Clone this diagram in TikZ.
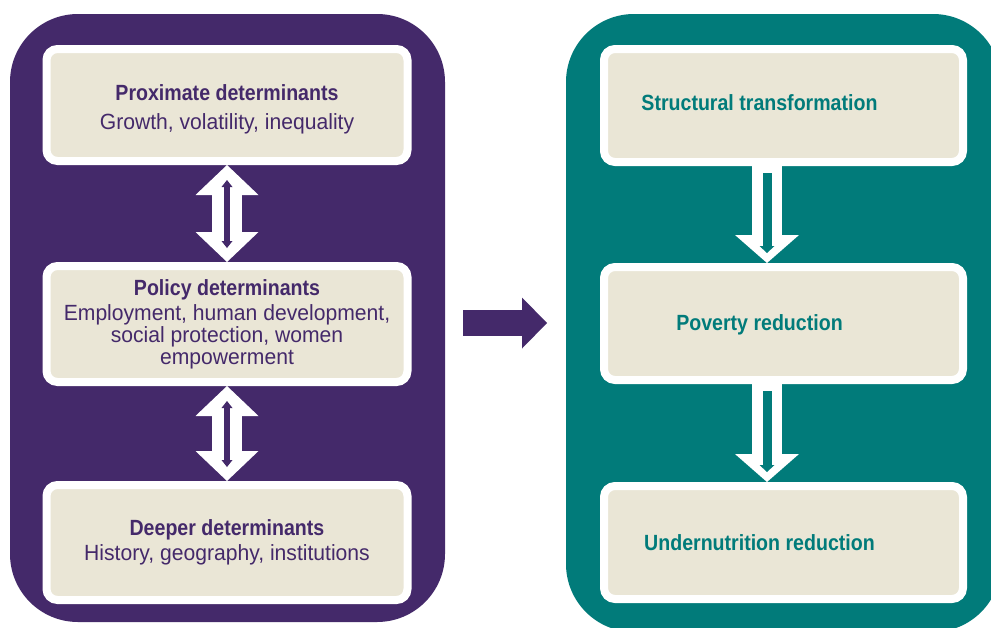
\documentclass[tikz,border=0pt]{standalone}
\usepackage{fontspec}
\setmainfont{Liberation Sans}[FakeStretch=0.96]
\newfontfamily\headfont{Liberation Sans}[FakeStretch=0.89]
\usetikzlibrary{arrows.meta}

\definecolor{deeppurple}{HTML}{44296A}
\definecolor{seateal}{HTML}{017B7A}
\definecolor{sand}{HTML}{EAE6D6}

\tikzset{
  panel/.style={rounded corners=68pt, inner sep=0pt, outer sep=0pt},
  box/.style={draw=white, line width=8pt, fill=sand, rounded corners=11pt,
    minimum width=361pt, align=center, inner sep=0pt, text=deeppurple,
    font=\fontsize{22}{22}\selectfont},
  rbox/.style={box, minimum width=359pt, minimum height=113pt},
  rtext/.style={text=seateal, xshift=-24pt, font=\fontsize{22}{22}\selectfont\headfont\bfseries},
  twoway/.style={white, line width=30pt,
    {Triangle[length=30pt,width=63pt,line width=0pt]}-{Triangle[length=30pt,width=63pt,line width=0pt]}},
  slot/.style={deeppurple, line width=6pt, shorten <=15pt, shorten >=14pt,
    {Triangle[length=7pt,width=11pt,line width=0pt]}-{Triangle[length=7pt,width=11pt,line width=0pt]}},
  oneway/.style={white, line width=30pt, -{Triangle[length=28pt,width=64pt,line width=0pt]}},
  tealslot/.style={seateal, line width=9pt, shorten <=7pt, shorten >=10pt,
    -{Triangle[length=7pt,width=15pt,line width=0pt]}},
  bigarrow/.style={deeppurple, line width=26pt, shorten <=18pt, shorten >=19pt,
    -{Triangle[length=25pt,width=51pt,line width=0pt]}}
}

\newcommand{\hd}[1]{{\headfont\bfseries #1}}

\begin{document}
\begin{tikzpicture}[x=1pt,y=-1pt]
\fill[white] (0,0) rectangle (991,627);
\clip (0,0) rectangle (991,627);

% the two panels
\node[panel, fill=deeppurple, minimum width=435pt, minimum height=608pt] (left) at (227.5,318) {};
\node[panel, fill=seateal, minimum width=435pt, minimum height=618pt] (right) at (783.5,323) {};

% determinants
\node[box, minimum height=112pt] (prox) at (227,105)
  {\rule{0pt}{24pt}\hd{Proximate determinants}\\[7pt] Growth, volatility, inequality};
\node[box, minimum height=116pt] (pol) at (227,324)
  {\hd{Policy determinants}\\[3pt] Employment, human development,\\ social protection, women\\ empowerment};
\node[box, minimum height=115pt] (deep) at (227,542.5)
  {\hd{Deeper determinants}\\[3pt] History, geography, institutions};

% outcomes
\node[rbox, label={[rtext, yshift=3pt]center:Structural transformation}] (struct) at (783.5,105.5) {};
\node[rbox, label={[rtext, yshift=-1pt]center:Poverty reduction}] (pov) at (783.5,323.5) {};
\node[rbox, label={[rtext]center:Undernutrition reduction}] (under) at (783.5,542.5) {};

\draw[twoway] (prox.south) -- (pol.north);
\draw[slot] (prox.south) -- (pol.north);
\draw[twoway] (pol.south) -- (deep.north);
\draw[slot] (pol.south) -- (deep.north);

\draw[oneway] ([xshift=-16.5pt]struct.south) -- ([xshift=-16.5pt]pov.north);
\draw[tealslot] ([xshift=-16.5pt]struct.south) -- ([xshift=-16.5pt]pov.north);
\draw[oneway] ([xshift=-16.5pt]pov.south) -- ([xshift=-16.5pt]under.north);
\draw[tealslot] ([xshift=-16.5pt]pov.south) -- ([xshift=-16.5pt]under.north);

\draw[bigarrow] (left.east |- right.west) -- (right.west);
\end{tikzpicture}
\end{document}
